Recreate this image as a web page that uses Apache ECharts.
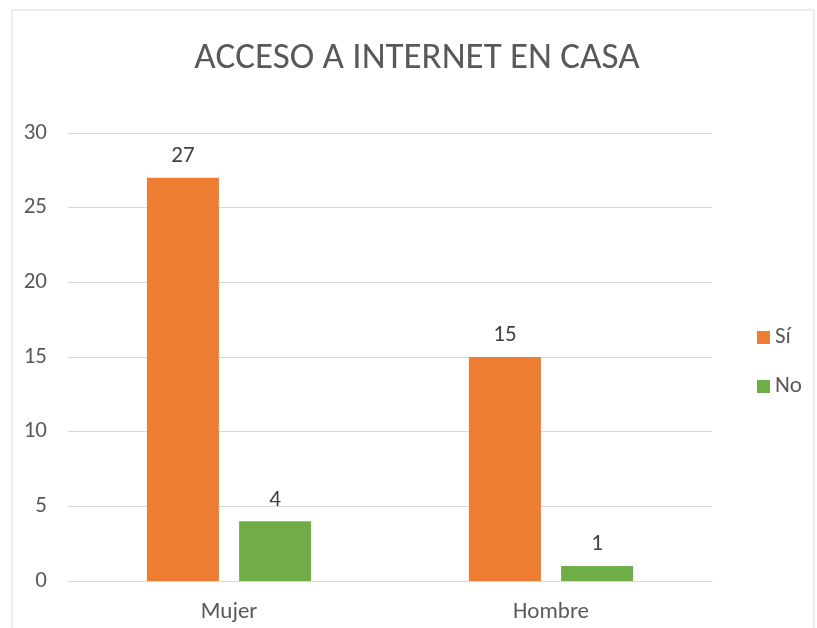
<!DOCTYPE html>
<html>
    <head>
        <meta charset="utf-8">
        <script src="https://cdn.jsdelivr.net/npm/echarts@6/dist/echarts.min.js"></script>
        <style>
            html, body { margin: 0; padding: 0; background: #fff; }
            #main { width: 817px; height: 628px; }
        </style>
    </head>
    <body>
        <div id="main"></div>
        <script>
            var categories = ['Mujer', 'Hombre'];
            var siValues = [27, 15];
            var noValues = [4, 1];
            var yTicks = { min: 0, max: 30, interval: 5 };

            var chart = echarts.init(document.getElementById('main'));
            var font = 'Calibri, Carlito, "Liberation Sans", "Open Sans", sans-serif';

            var option = {
                animation: false,
                textStyle: { fontFamily: font },
                graphic: [{
                    type: 'rect',
                    shape: { x: 12, y: 10, width: 802, height: 640 },
                    style: { fill: 'none', stroke: '#d9d9d9', lineWidth: 1 }
                }],
                title: {
                    text: 'ACCESO A INTERNET EN CASA',
                    left: 412,
                    textAlign: 'center',
                    top: 35,
                    textStyle: { color: '#595959', fontSize: 37, fontWeight: 'normal', fontFamily: font }
                },
                legend: {
                    orient: 'vertical',
                    left: 752,
                    top: 321,
                    itemWidth: 13,
                    itemHeight: 13,
                    itemGap: 26,
                    icon: 'rect',
                    textStyle: { color: '#595959', fontSize: 23, fontFamily: font },
                    data: ['Sí', 'No']
                },
                grid: { left: 68, right: 105, top: 133, bottom: 47, containLabel: false },
                xAxis: {
                    type: 'category',
                    data: categories,
                    axisLine: { lineStyle: { color: '#d9d9d9' } },
                    axisTick: { show: false },
                    axisLabel: { color: '#595959', fontSize: 23, margin: 20, fontFamily: font }
                },
                yAxis: {
                    type: 'value',
                    min: yTicks.min,
                    max: yTicks.max,
                    interval: yTicks.interval,
                    axisLine: { show: false },
                    axisTick: { show: false },
                    axisLabel: { color: '#595959', fontSize: 23, margin: 21, fontFamily: font },
                    splitLine: { lineStyle: { color: '#d9d9d9' } }
                },
                series: [{
                    name: 'Sí',
                    type: 'bar',
                    data: siValues,
                    barWidth: 72,
                    barGap: '28%',
                    itemStyle: { color: '#ED7D31' },
                    label: { show: true, position: 'top', distance: 10, color: '#404040', fontSize: 23, fontFamily: font }
                }, {
                    name: 'No',
                    type: 'bar',
                    data: noValues,
                    barWidth: 72,
                    barGap: '28%',
                    itemStyle: { color: '#70AD47' },
                    label: { show: true, position: 'top', distance: 10, color: '#404040', fontSize: 23, fontFamily: font }
                }]
            };

            chart.setOption(option);
        </script>
    </body>
</html>
